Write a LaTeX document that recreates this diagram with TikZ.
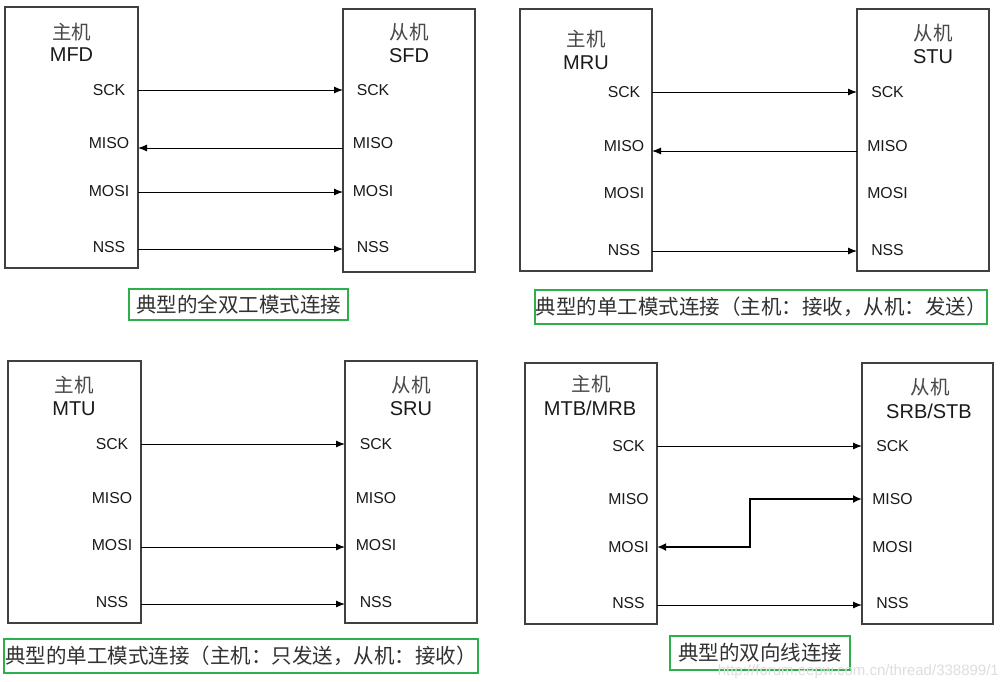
\documentclass[tikz,border=0pt]{standalone}
\usepackage{fontspec}
\setmainfont{Liberation Sans}
\newfontfamily\cjk{Noto Sans CJK SC}
\usetikzlibrary{arrows.meta}
\definecolor{capgreen}{HTML}{2DB04B}
\definecolor{boxgray}{HTML}{404040}
\definecolor{txt}{HTML}{1A1A1A}
\tikzset{
  box/.style={draw=boxgray, line width=1.2pt, rectangle, inner sep=0pt},
  pinlbl/.style={font=\fontsize{15.8}{18}\selectfont, text=txt, inner sep=0pt},
  cjktitle/.style={font=\cjk\fontsize{19.5}{22}\selectfont, text=txt!80, inner sep=0pt},
  lattitle/.style={font=\fontsize{20}{22}\selectfont, text=txt, inner sep=0pt},
  sig/.style={draw=black, line width=1pt, -{Latex[length=9pt,width=7pt]}},
  bisig/.style={draw=black, line width=2pt, -{Latex[length=9pt,width=8pt]}},
  caption/.style={draw=capgreen, line width=2.6pt, rectangle, inner sep=0pt,
    font=\cjk\fontsize{20.5}{23}\selectfont, text=txt!90},
}
\begin{document}
\begin{tikzpicture}[x=1pt,y=-1pt]
\useasboundingbox[fill=white] (0,0) rectangle (1000,681);

% ================= Quadrant 1: full duplex =================
\node[box, minimum width=133pt, minimum height=261pt] (m1) at (71.5,137.5) {};
\node[box, minimum width=132pt, minimum height=263pt] (s1) at (409,140.5) {};
\node[cjktitle] (m1t) at (71.5,32) {主机};
\node[lattitle] (m1n) at (71.5,55) {MFD};
\node[cjktitle] (s1t) at (409,32) {从机};
\node[lattitle] (s1n) at (409,56) {SFD};
\node[pinlbl] (m1sck) at (109,90) {SCK};
\node[pinlbl] (m1miso) at (109,143) {MISO};
\node[pinlbl] (m1mosi) at (109,191) {MOSI};
\node[pinlbl] (m1nss) at (109,247) {NSS};
\node[pinlbl] (s1sck) at (373,90) {SCK};
\node[pinlbl] (s1miso) at (373,143) {MISO};
\node[pinlbl] (s1mosi) at (373,191) {MOSI};
\node[pinlbl] (s1nss) at (373,247) {NSS};
\coordinate (a1sck) at (138,90);   \coordinate (b1sck) at (343,90);
\coordinate (a1miso) at (138,148); \coordinate (b1miso) at (343,148);
\coordinate (a1mosi) at (138,192); \coordinate (b1mosi) at (343,192);
\coordinate (a1nss) at (138,249);  \coordinate (b1nss) at (343,249);
\draw[sig] (a1sck) -- (b1sck);
\draw[sig] (b1miso) -- (a1miso);
\draw[sig] (a1mosi) -- (b1mosi);
\draw[sig] (a1nss) -- (b1nss);
\node[caption, minimum width=219pt, minimum height=31pt] (c1) at (238.5,304.5) {典型的全双工模式连接};

% ================= Quadrant 2: simplex, master receives =================
\node[box, minimum width=132pt, minimum height=262pt] (m2) at (586,140) {};
\node[box, minimum width=132pt, minimum height=262pt] (s2) at (923,140) {};
\node[cjktitle] (m2t) at (586,39) {主机};
\node[lattitle] (m2n) at (586,63) {MRU};
\node[cjktitle] (s2t) at (933,33) {从机};
\node[lattitle] (s2n) at (933,57) {STU};
\node[pinlbl] (m2sck) at (624,92) {SCK};
\node[pinlbl] (m2miso) at (624,146) {MISO};
\node[pinlbl] (m2mosi) at (624,193) {MOSI};
\node[pinlbl] (m2nss) at (624,250) {NSS};
\node[pinlbl] (s2sck) at (887.5,92) {SCK};
\node[pinlbl] (s2miso) at (887.5,146) {MISO};
\node[pinlbl] (s2mosi) at (887.5,193) {MOSI};
\node[pinlbl] (s2nss) at (887.5,250) {NSS};
\coordinate (a2sck) at (652,92);   \coordinate (b2sck) at (857,92);
\coordinate (a2miso) at (652,151); \coordinate (b2miso) at (857,151);
\coordinate (a2nss) at (652,251);  \coordinate (b2nss) at (857,251);
\draw[sig] (a2sck) -- (b2sck);
\draw[sig] (b2miso) -- (a2miso);
\draw[sig] (a2nss) -- (b2nss);
\node[caption, minimum width=452pt, minimum height=34pt] (c2) at (761,307) {典型的单工模式连接（主机：接收，从机：发送）};

% ================= Quadrant 3: simplex, master transmits =================
\node[box, minimum width=133pt, minimum height=262pt] (m3) at (74.5,492) {};
\node[box, minimum width=132pt, minimum height=262pt] (s3) at (411,492) {};
\node[cjktitle] (m3t) at (74,385) {主机};
\node[lattitle] (m3n) at (74,409) {MTU};
\node[cjktitle] (s3t) at (411,385) {从机};
\node[lattitle] (s3n) at (411,409) {SRU};
\node[pinlbl] (m3sck) at (112,444) {SCK};
\node[pinlbl] (m3miso) at (112,498) {MISO};
\node[pinlbl] (m3mosi) at (112,545) {MOSI};
\node[pinlbl] (m3nss) at (112,602) {NSS};
\node[pinlbl] (s3sck) at (376,444) {SCK};
\node[pinlbl] (s3miso) at (376,498) {MISO};
\node[pinlbl] (s3mosi) at (376,545) {MOSI};
\node[pinlbl] (s3nss) at (376,602) {NSS};
\coordinate (a3sck) at (141,444);  \coordinate (b3sck) at (345,444);
\coordinate (a3mosi) at (141,547); \coordinate (b3mosi) at (345,547);
\coordinate (a3nss) at (141,604);  \coordinate (b3nss) at (345,604);
\draw[sig] (a3sck) -- (b3sck);
\draw[sig] (a3mosi) -- (b3mosi);
\draw[sig] (a3nss) -- (b3nss);
\node[caption, minimum width=474pt, minimum height=34pt] (c3) at (241,656) {典型的单工模式连接（主机：只发送，从机：接收）};

% ================= Quadrant 4: bidirectional =================
\node[box, minimum width=132pt, minimum height=261pt] (m4) at (591,493.5) {};
\node[box, minimum width=131pt, minimum height=261pt] (s4) at (927.5,493.5) {};
\node[cjktitle] (m4t) at (591,384) {主机};
\node[lattitle] (m4n) at (590,408) {MTB/MRB};
\node[cjktitle] (s4t) at (930,387) {从机};
\node[lattitle] (s4n) at (929,411) {SRB/STB};
\node[pinlbl] (m4sck) at (628.5,446) {SCK};
\node[pinlbl] (m4miso) at (628.5,499) {MISO};
\node[pinlbl] (m4mosi) at (628.5,547) {MOSI};
\node[pinlbl] (m4nss) at (628.5,603) {NSS};
\node[pinlbl] (s4sck) at (892.5,446) {SCK};
\node[pinlbl] (s4miso) at (892.5,499) {MISO};
\node[pinlbl] (s4mosi) at (892.5,547) {MOSI};
\node[pinlbl] (s4nss) at (892.5,603) {NSS};
\coordinate (a4sck) at (657,446);  \coordinate (b4sck) at (862,446);
\coordinate (a4mosi) at (657,547); \coordinate (b4miso) at (862,499);
\coordinate (a4nss) at (657,605);  \coordinate (b4nss) at (862,605);
\coordinate (k4) at (750,523);
\draw[sig] (a4sck) -- (b4sck);
\draw[bisig] (k4) |- (b4miso);
\draw[bisig] (k4) |- (a4mosi);
\draw[sig] (a4nss) -- (b4nss);
\node[caption, minimum width=180pt, minimum height=34pt] (c4) at (760,653) {典型的双向线连接};

% watermark
\node[anchor=base east, inner sep=0pt, font=\fontsize{15}{17}\selectfont, text=black!13] (wm) at (999,675) {http://forum.eepw.com.cn/thread/338899/1};
\end{tikzpicture}
\end{document}
